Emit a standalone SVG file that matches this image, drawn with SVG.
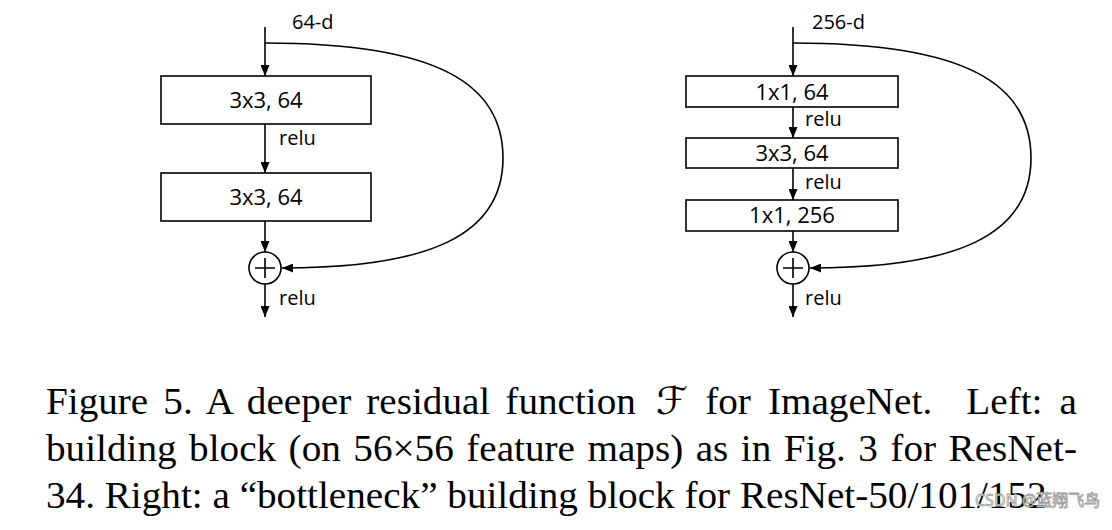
<svg xmlns="http://www.w3.org/2000/svg" width="1112" height="530" viewBox="0 0 1112 530">
<style>
.box{fill:#fff;stroke:#000;stroke-width:1.6}
.ln{fill:none;stroke:#000;stroke-width:1.6}
.lbl{font-family:"Open Sans","DejaVu Sans",sans-serif;font-size:20px;fill:#000}
.blbl{font-family:"Open Sans","DejaVu Sans",sans-serif;font-size:22px;fill:#000;text-anchor:middle}
.cap{font-family:"Liberation Serif","Times New Roman",serif;font-size:37px;fill:#000}
.wm{font-family:"Noto Sans","Noto Sans CJK SC",sans-serif;font-size:16px;fill:#fff;stroke:#9a9a9a;stroke-width:0.8}
</style>
<defs>
<marker id="ah" markerUnits="userSpaceOnUse" markerWidth="11" markerHeight="9" refX="11" refY="4.5" orient="auto">
<path d="M0,0 L11,4.5 L0,9 z" fill="#000"/>
</marker>
</defs>
<rect width="1112" height="530" fill="#fff"/>

<g id="connectors">
<path class="ln" d="M265,27 V76" marker-end="url(#ah)"/>
<path class="ln" d="M265,43 C440,43 503,85 503,158 C503,235 430,268 282,268" marker-end="url(#ah)"/>
<path class="ln" d="M265,124 V173" marker-end="url(#ah)"/>
<path class="ln" d="M265,221 V252" marker-end="url(#ah)"/>
<path class="ln" d="M265,284 V317" marker-end="url(#ah)"/>

<path class="ln" d="M793,27 V76" marker-end="url(#ah)"/>
<path class="ln" d="M793,43 C968,43 1031,85 1031,158 C1031,235 958,268 810,268" marker-end="url(#ah)"/>
<path class="ln" d="M793,107 V138" marker-end="url(#ah)"/>
<path class="ln" d="M793,168 V200" marker-end="url(#ah)"/>
<path class="ln" d="M793,231 V252" marker-end="url(#ah)"/>
<path class="ln" d="M793,284 V317" marker-end="url(#ah)"/>
</g>

<g id="edge-labels">
<text class="lbl" x="292" y="29">64-d</text>
<text class="lbl" x="279" y="145">relu</text>
<text class="lbl" x="279" y="305">relu</text>
<text class="lbl" x="812" y="29">256-d</text>
<text class="lbl" x="805" y="126">relu</text>
<text class="lbl" x="805" y="189">relu</text>
<text class="lbl" x="805" y="305">relu</text>
</g>

<g id="left-conv1">
<rect class="box" x="161" y="76" width="210" height="48"/>
<text class="blbl" x="266" y="108">3x3, 64</text>
</g>
<g id="left-conv2">
<rect class="box" x="161" y="173" width="210" height="48"/>
<text class="blbl" x="266" y="205">3x3, 64</text>
</g>
<g id="left-add">
<circle class="box" cx="265" cy="268" r="16"/>
<path class="ln" d="M255,268 H275 M265,258 V278"/>
</g>

<g id="right-conv1">
<rect class="box" x="686" y="76" width="212" height="31"/>
<text class="blbl" x="792" y="99.5">1x1, 64</text>
</g>
<g id="right-conv2">
<rect class="box" x="686" y="138" width="212" height="30"/>
<text class="blbl" x="792" y="161">3x3, 64</text>
</g>
<g id="right-conv3">
<rect class="box" x="686" y="200" width="212" height="31"/>
<text class="blbl" x="792" y="223">1x1, 256</text>
</g>
<g id="right-add">
<circle class="box" cx="793" cy="268" r="16"/>
<path class="ln" d="M783,268 H803 M793,258 V278"/>
</g>

<g id="caption" transform="translate(46,0) scale(1.0587,1)">
<text class="cap" x="0" y="414" word-spacing="5">Figure 5. A deeper residual function</text>
<text class="cap" x="576" y="414" style="font-family:'DejaVu Serif','DejaVu Sans',serif;font-size:38px;font-style:italic">ℱ</text>
<text class="cap" x="973.8" y="414" text-anchor="end" word-spacing="6.9">for ImageNet.&#160; Left: a</text>
<text class="cap" x="0" y="461" word-spacing="2.5" textLength="973.8" lengthAdjust="spacing">building block (on 56×56 feature maps) as in Fig. 3 for ResNet-</text>
<text class="cap" x="0" y="508">34. Right: a “bottleneck” building block for ResNet-50/101/152</text>
</g>

<text class="wm" x="975" y="506">CSDN @蓝翔飞鸟</text>
</svg>
